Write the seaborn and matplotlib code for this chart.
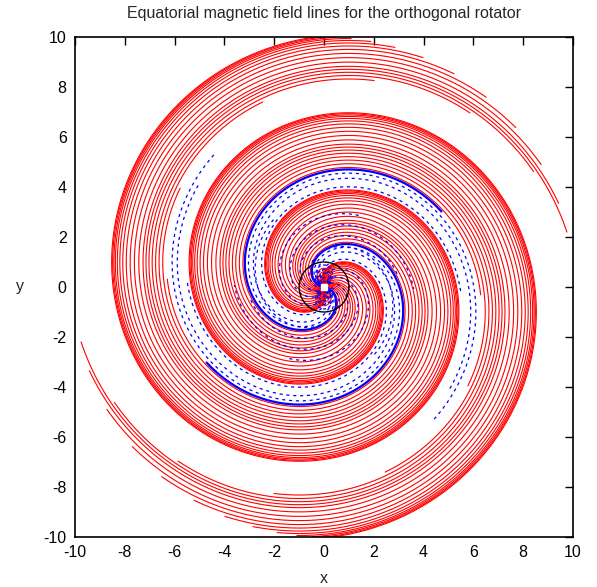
import numpy as np
import pandas as pd
import seaborn as sns
import matplotlib.pyplot as plt

# field lines in the equatorial plane, far zone: r = c - phi (units of light cylinder radius)
# values of c are for one arm, the second arm is the same set turned by pi
arm_turn = [0.0, np.pi]

red_c = [6.25, 6.40, 6.55, 6.69, 6.83, 6.96, 7.08, 7.20, 7.37, 7.55,
         7.72, 7.88, 8.02, 8.14, 8.24, 8.32, 8.38, 8.43, 8.47]
red_rmax = [6.3, 7.0, 7.8, 8.5, 9.1, 9.6, 10, 10, 10, 10,
            10, 10, 10, 10, 10, 10, 10, 10, 10]

blue_solid_c = [6.17]
blue_solid_rmax = [5.6]

blue_dash_c = [8.6, 8.95, 9.16]
blue_dash_rmax = [5.5, 6.5, 6.9]

# dashed lines inside the first turn, wound a bit tighter
inner_dash_c = [6.6, 7.2, 7.8, 8.4]
inner_dash_rmax = [3.4, 3.0, 3.6, 3.2]

# closed loops near the star (r = L sin^2)
loop_red_L = [0.3, 0.45, 0.6, 0.75]
loop_blue_L = [0.22, 0.38, 0.55, 0.7, 0.88]

light_cylinder = 1.0
ticks = [-10, -8, -6, -4, -2, 0, 2, 4, 6, 8, 10]


def spiral_rows(cs, rmaxs, rmin=0.12, wind=1.0):
    rows = []
    k = 0
    for turn in arm_turn:
        for c, rmax in zip(cs, rmaxs):
            r = np.linspace(rmin, rmax, 900)
            phi = c + turn - wind * r
            rows.append(pd.DataFrame({"x": r * np.cos(phi), "y": r * np.sin(phi), "line": k}))
            k += 1
    return pd.concat(rows, ignore_index=True)


def loop_rows(Ls):
    rows = []
    k = 0
    th = np.linspace(0.02, np.pi - 0.02, 300)
    for L in Ls:
        for s in [1, -1]:
            r = L * np.sin(th) ** 2
            rows.append(pd.DataFrame({"x": r * np.cos(th), "y": s * r * np.sin(th), "line": k}))
            k += 1
    return pd.concat(rows, ignore_index=True)


red = spiral_rows(red_c, red_rmax)
bsolid = spiral_rows(blue_solid_c, blue_solid_rmax)
bdash = spiral_rows(blue_dash_c, blue_dash_rmax)
idash = spiral_rows(inner_dash_c, inner_dash_rmax, rmin=0.3, wind=1.3)
lred = loop_rows(loop_red_L)
lblue = loop_rows(loop_blue_L)
t = np.linspace(0, 2 * np.pi, 400)
lc = pd.DataFrame({"x": light_cylinder * np.cos(t), "y": light_cylinder * np.sin(t), "line": 0})

sns.set_style("white")
plt.rcParams["font.family"] = ["Liberation Sans", "DejaVu Sans"]
plt.rcParams["axes.unicode_minus"] = False

fig = plt.figure(figsize=(5.97, 5.87), dpi=100)
ax = fig.add_axes([75 / 597, 50 / 587, 498 / 597, 500 / 587])

sns.lineplot(data=red, x="x", y="y", units="line", estimator=None, sort=False,
             color="#ff0000", lw=0.8, ax=ax)
sns.lineplot(data=lred, x="x", y="y", units="line", estimator=None, sort=False,
             color="#ff0000", lw=0.8, ax=ax)
sns.lineplot(data=bdash, x="x", y="y", units="line", estimator=None, sort=False,
             color="#0000ff", lw=0.9, linestyle=(0, (2.5, 3)), ax=ax)
sns.lineplot(data=idash, x="x", y="y", units="line", estimator=None, sort=False,
             color="#0000ff", lw=0.9, linestyle=(0, (2.5, 3)), ax=ax)
sns.lineplot(data=lblue, x="x", y="y", units="line", estimator=None, sort=False,
             color="#0000ff", lw=0.9, linestyle=(0, (2.5, 2)), ax=ax)
sns.lineplot(data=bsolid, x="x", y="y", units="line", estimator=None, sort=False,
             color="#0000ff", lw=1.6, ax=ax)
sns.lineplot(data=lc, x="x", y="y", units="line", estimator=None, sort=False,
             color="black", lw=1.0, ax=ax)
ax.plot([0], [0], marker="s", ms=4, color="white", mec="white", zorder=5)

ax.set_xlim(-10, 10)
ax.set_ylim(-10, 10)
ax.set_xticks(ticks)
ax.set_yticks(ticks)
ax.set_xticklabels([str(v) for v in ticks])
ax.set_yticklabels([str(v) for v in ticks])
ax.tick_params(direction="in", length=6, width=1, top=True, right=True,
               labelsize=11.5, colors="black", pad=6)
for s in ax.spines.values():
    s.set_color("black")
    s.set_linewidth(1.2)
ax.set_xlabel("x", fontsize=11.5, labelpad=8)
ax.set_ylabel("y", fontsize=11.5, rotation=0, labelpad=17, va="center")
ax.set_title("Equatorial magnetic field lines for the orthogonal rotator", fontsize=11.5, pad=14)

fig.savefig("out.png", dpi=100)
